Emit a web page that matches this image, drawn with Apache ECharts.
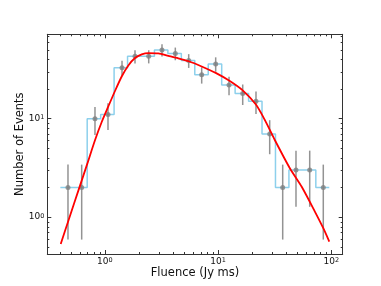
<!DOCTYPE html>
<html><head><meta charset="utf-8">
<script src="https://cdn.jsdelivr.net/npm/echarts@6/dist/echarts.min.js"></script>
<style>html,body{margin:0;padding:0;background:#fff}#c{width:381px;height:286px}</style>
</head><body><div id="c"></div>
<script>
// Histogram bin edges (Jy ms) and counts
const binEdges = [0.405,0.532,0.699,0.919,1.208,1.588,2.087,2.743,3.606,4.740,6.231,8.190,10.77,14.15,18.60,24.45,32.14,42.25,55.53,73.00,95.94];
const counts = [2,2,10,11,33,43,43,50,46,39,28,36,22,18,15,7,2,3,3,2];
// Data points with Poisson error bars
const fluence = [0.473,0.625,0.819,1.067,1.419,1.848,2.442,3.199,4.194,5.506,7.171,9.53,12.50,16.51,21.63,28.58,37.23,48.78,64.47,84.97];
const errors = [1.41,1.41,3.16,3.32,5.74,6.56,6.56,7.07,6.78,6.24,5.29,6.00,4.69,4.24,3.87,2.65,1.41,1.73,1.73,1.41];
// Fitted model curve
const fitX = [0.408,0.476,0.604,0.701,0.819,0.939,1.074,1.23,1.41,1.613,1.848,2.118,2.422,2.967,3.636,4.456,5.51,7.17,9.53,12.5,16.5,21.6,26.0,31.8,43.2,54.8,71.8,85.0,96.0];
const fitY = [0.532,0.911,2.085,3.49,6.03,9.24,13.3,19.1,26.8,34.7,41.3,45.0,46.4,46.0,43.5,41.1,38.3,33.9,29.2,24.4,19.4,13.9,9.6,6.03,3.11,2.03,1.13,0.77,0.562];
// Axis ticks
const xMinorTicks = [0.4,0.5,0.6,0.7,0.8,0.9,2,3,4,5,6,7,8,9,20,30,40,50,60,70,80,90];
const yMinorTicks = [0.5,0.6,0.7,0.8,0.9,2,3,4,5,6,7,8,9,20,30,40,50,60,70];
const xRange = [0.3106, 126.1];
const yRange = [0.421, 72];

const FONT = 'DejaVu Sans';
const AX = '#333';
const chart = echarts.init(document.getElementById('c'), null, {renderer: 'canvas'});

const supFmt = v => '{b|10}{s|' + Math.round(Math.log10(v)) + '}';
const rich = {
  b: {fontSize: 9, fontFamily: FONT, color: '#111', lineHeight: 9, verticalAlign: 'bottom'},
  s: {fontSize: 6.5, fontFamily: FONT, color: '#111', lineHeight: 6.5, verticalAlign: 'top', padding: [0,0,4,0]}
};
function logAxis(pos, range, showLabel, name, extra) {
  return Object.assign({
    type: 'log', logBase: 10, position: pos, min: range[0], max: range[1],
    axisLine: {show: true, onZero: false, lineStyle: {color: AX, width: 1}},
    axisTick: {show: true, inside: true, length: 4, lineStyle: {color: AX, width: 1}},
    minorTick: {show: false},
    splitLine: {show: false},
    axisLabel: {show: showLabel, showMinLabel: false, showMaxLabel: false, interval: 0,
      formatter: supFmt, rich: rich, margin: 3},
  }, extra || {});
}

function minorTickSeries(vals, isX) {
  return {
    type: 'custom', xAxisIndex: 0, yAxisIndex: 0, silent: true, clip: false, z: 5,
    data: vals.map(v => isX ? [v, 1] : [1, v]),
    renderItem: function (params, api) {
      const cs = params.coordSys;
      const st = {stroke: AX, lineWidth: 1};
      if (isX) {
        const x = Math.round(api.coord([api.value(0), 1])[0]) + 0.5;
        return {type: 'group', children: [
          {type: 'line', shape: {x1: x, y1: cs.y + cs.height, x2: x, y2: cs.y + cs.height - 2}, style: st},
          {type: 'line', shape: {x1: x, y1: cs.y, x2: x, y2: cs.y + 2}, style: st}
        ]};
      } else {
        const y = Math.round(api.coord([1, api.value(1)])[1]) + 0.5;
        return {type: 'group', children: [
          {type: 'line', shape: {x1: cs.x, y1: y, x2: cs.x + 2, y2: y}, style: st},
          {type: 'line', shape: {x1: cs.x + cs.width, y1: y, x2: cs.x + cs.width - 2, y2: y}, style: st}
        ]};
      }
    }
  };
}

const option = {
  animation: false,
  backgroundColor: '#fff',
  grid: {left: 47.3, top: 34.3, right: 38.3, bottom: 32, containLabel: false, outerBoundsMode: 'none'},
  xAxis: [
    logAxis('bottom', xRange, true, null, {
      name: 'Fluence (Jy ms)', nameLocation: 'middle', nameGap: 13, nameMoveOverlap: false,
      nameTextStyle: {fontSize: 11.5, fontFamily: FONT, color: '#111'}
    }),
    logAxis('top', xRange, false)
  ],
  yAxis: [
    logAxis('left', yRange, true, null, {
      name: 'Number of Events', nameLocation: 'middle', nameGap: 21, nameMoveOverlap: false,
      nameTextStyle: {fontSize: 11.5, fontFamily: FONT, color: '#111'},
      axisLabel: {show: true, showMinLabel: false, showMaxLabel: false, interval: 0,
        formatter: supFmt, rich: rich, margin: 3, align: 'right'}
    }),
    logAxis('right', yRange, false)
  ],
  series: [
    {
      type: 'line', step: 'end', xAxisIndex: 0, yAxisIndex: 0, symbol: 'none', z: 2,
      data: binEdges.map((e, i) => [e, counts[Math.min(i, counts.length - 1)]]),
      lineStyle: {color: '#8dd0ec', width: 1.5}
    },
    {
      type: 'custom', xAxisIndex: 0, yAxisIndex: 0, z: 3,
      data: fluence.map((x, i) => [x, counts[i] - errors[i], counts[i] + errors[i]]),
      encode: {x: 0, y: [1, 2]},
      renderItem: function (params, api) {
        const p1 = api.coord([api.value(0), api.value(1)]);
        const p2 = api.coord([api.value(0), api.value(2)]);
        return {type: 'line', shape: {x1: p1[0], y1: p1[1], x2: p2[0], y2: p2[1]},
          style: {stroke: '#808080', lineWidth: 1.5, opacity: 0.85}};
      }
    },
    {
      type: 'scatter', xAxisIndex: 0, yAxisIndex: 0, z: 4, symbolSize: 5,
      data: fluence.map((x, i) => [x, counts[i]]),
      itemStyle: {color: '#808080'}
    },
    {
      type: 'line', smooth: 0.25, xAxisIndex: 0, yAxisIndex: 0, symbol: 'none', z: 6,
      data: fitX.map((x, i) => [x, fitY[i]]),
      lineStyle: {color: '#ff0000', width: 1.8}
    },
    minorTickSeries(xMinorTicks, true),
    minorTickSeries(yMinorTicks, false)
  ]
};
chart.setOption(option);
</script>
</body></html>
